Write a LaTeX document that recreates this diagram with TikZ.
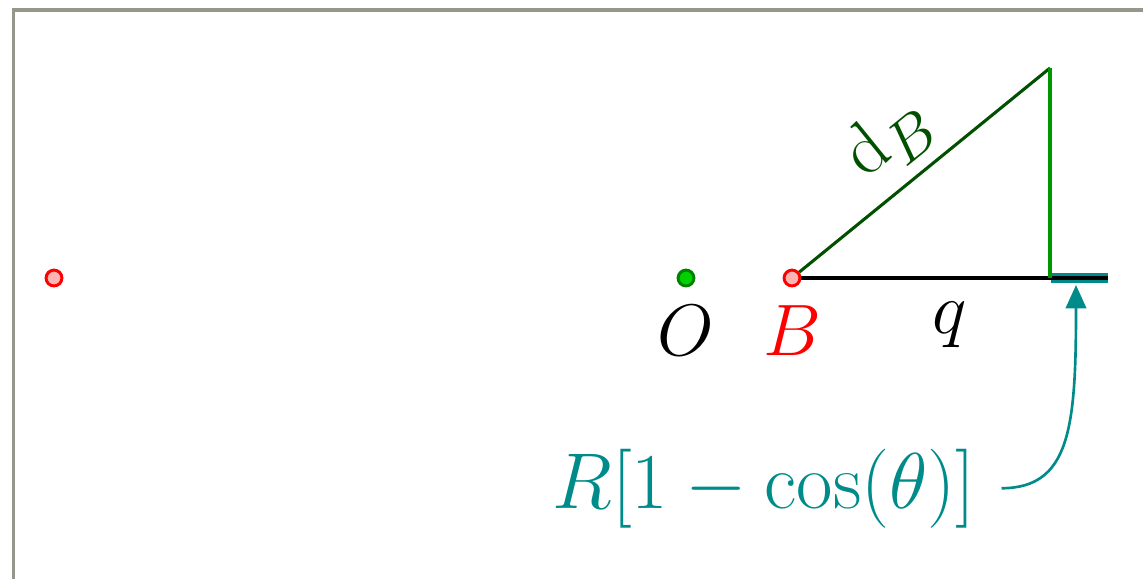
\documentclass[tikz,border=0pt]{standalone}
\usepackage{amsmath,amssymb}
\usepackage{tikz}
\usetikzlibrary{positioning,arrows.meta,calc}
\usepackage{xcolor}
\definecolor{framegray}{RGB}{150,150,140}
\definecolor{ptpink}{RGB}{255,180,180}
\definecolor{ptgreen}{RGB}{0,210,0}
\definecolor{ptdkgreen}{RGB}{0,130,0}
\definecolor{hypgreen}{RGB}{0,80,0}
\definecolor{vertgreen}{RGB}{0,150,0}
\definecolor{arrteal}{RGB}{0,139,139}

\begin{document}
\begin{tikzpicture}[x=0.012cm,y=0.012cm,every node/.style={font=\Huge},
  redpt/.style={circle,draw=red,fill=ptpink,line width=1pt,inner sep=0pt,minimum size=0.19cm},
  greenpt/.style={circle,draw=ptdkgreen,fill=ptgreen,line width=1pt,inner sep=0pt,minimum size=0.19cm}]
\useasboundingbox (0,0) rectangle (1143,578);
\clip (0,0) rectangle (1143,578);
\fill[white] (0,0) rectangle (1143,578);
\draw[framegray,line width=1.2pt] (13.5,-20) -- (13.5,568) -- (1170,568);
% corners of the triangle
\coordinate (T) at (1050,510);
\coordinate (F) at (1050,300);
\coordinate (E) at (1108,300);
\coordinate (barL) at (1051,300);
\coordinate (tipR) at (1076,293);
% the bar and the sides
\draw[arrteal,line width=3.7pt] (barL) -- (E);
\node[redpt] (ptA) at (54,300) {};
\node[greenpt] (ptO) at (686,300) {};
\node[redpt] (ptB) at (792,300) {};
\draw[black,line width=1.2pt] (ptB) -- (E);
\draw[hypgreen,line width=1.05pt] (ptB) -- (T);
\draw[vertgreen,line width=1.1pt] (T) -- (F);
% labels
\node[anchor=base] (lblO) at (686,223) {$O$};
\node[anchor=base,red] (lblB) at (792,223) {$B$};
\node[anchor=base] (lblq) at (950,245) {$q$};
\node[hypgreen,rotate=39] (lbldB) at (889,439) {$\mathrm{d}_B$};
\node[anchor=base,arrteal,scale=1.085] (lblR) at (764,70) {$R[1-\cos(\theta)]$};
\draw[arrteal,line width=0.9pt,-{Triangle[length=8pt,width=7pt]}]
  ([xshift=5pt]lblR.east) .. controls (1070,90) and (1076,150) .. (tipR);
\end{tikzpicture}
\end{document}
